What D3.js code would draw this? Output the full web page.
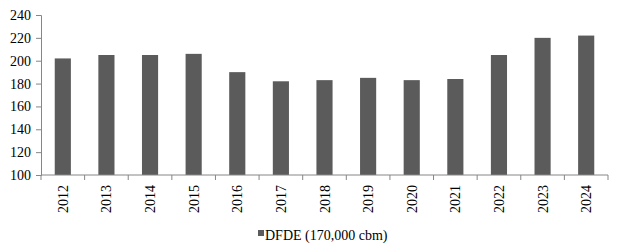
<!DOCTYPE html>
<html>
<head>
<meta charset="utf-8">
<script src="https://cdn.jsdelivr.net/npm/d3@7"></script>
<style>
  body { margin: 0; background: #fff; }
</style>
</head>
<body>
<div id="chart"></div>
<script>
// chart data
const years = ["2012", "2013", "2014", "2015", "2016", "2017", "2018", "2019", "2020", "2021", "2022", "2023", "2024"];
const dfdeValues = [202, 205, 205, 206, 190, 182, 183, 185, 183, 184, 205, 220, 222];
const yTicks = [100, 120, 140, 160, 180, 200, 220, 240];
const seriesName = "DFDE (170,000 cbm)";

const width = 624, height = 249;
const margin = {top: 15, right: 16, bottom: 74, left: 41};
const serif = "\"Liberation Serif\"";

const svg = d3.select("#chart").append("svg")
    .attr("width", width)
    .attr("height", height);

const x = d3.scaleBand()
    .domain(years)
    .range([margin.left, width - margin.right])
    .paddingInner(0.63)
    .paddingOuter(0.315);

const y = d3.scaleLinear()
    .domain([100, 240])
    .range([height - margin.bottom, margin.top]);

// bars
svg.append("g")
    .selectAll("rect")
    .data(dfdeValues)
    .join("rect")
    .attr("x", (d, i) => x(years[i]))
    .attr("y", d => y(d))
    .attr("width", x.bandwidth())
    .attr("height", d => y(100) - y(d))
    .attr("fill", "#5b5b5b");

// y axis
const yAxis = svg.append("g")
    .attr("transform", `translate(${margin.left},0)`)
    .call(d3.axisLeft(y).tickValues(yTicks).tickSize(5).tickPadding(5));
yAxis.selectAll("text")
    .style("font-family", serif)
    .style("font-size", "14px")
    .attr("fill", "#000");
yAxis.selectAll("line, path").attr("stroke", "#868686");

// x axis with ticks between categories
const xBounds = d3.range(years.length + 1).map(i => margin.left + i * (width - margin.right - margin.left) / years.length);
const xAxis = svg.append("g");
xAxis.append("line")
    .attr("x1", margin.left).attr("x2", width - margin.right)
    .attr("y1", y(100)).attr("y2", y(100))
    .attr("stroke", "#868686");
xAxis.selectAll(".tk")
    .data(xBounds)
    .join("line")
    .attr("class", "tk")
    .attr("x1", d => d).attr("x2", d => d)
    .attr("y1", y(100)).attr("y2", y(100) + 5)
    .attr("stroke", "#868686");
xAxis.selectAll("text")
    .data(years)
    .join("text")
    .attr("transform", d => `translate(${x(d) + x.bandwidth() / 2 + 5},${y(100) + 10}) rotate(-90)`)
    .attr("text-anchor", "end")
    .style("font-family", serif)
    .style("font-size", "14px")
    .text(d => d);

// legend
const legend = svg.append("g").attr("transform", "translate(258,236)");
legend.append("rect")
    .attr("x", 0).attr("y", -6)
    .attr("width", 6).attr("height", 6)
    .attr("fill", "#5b5b5b");
legend.append("text")
    .attr("x", 7).attr("y", 4)
    .style("font-family", serif)
    .style("font-size", "14px")
    .text(seriesName);
</script>
</body>
</html>
